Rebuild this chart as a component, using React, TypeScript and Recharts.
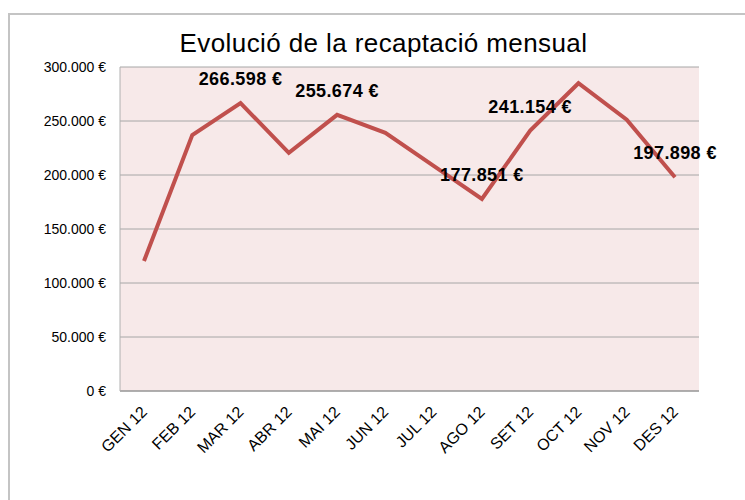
import React from 'react'
import {
  LineChart,
  Line,
  XAxis,
  YAxis,
  CartesianGrid,
  LabelList,
} from 'recharts'

// Monthly collection (€)
const months = [
  'GEN 12', 'FEB 12', 'MAR 12', 'ABR 12', 'MAI 12', 'JUN 12',
  'JUL 12', 'AGO 12', 'SET 12', 'OCT 12', 'NOV 12', 'DES 12',
]
const amounts = [
  120400, 237000, 266598, 220500, 255674, 239000,
  208400, 177851, 241154, 285000, 251300, 197898,
]
// only these months carry a value label in the original
const labelledMonths = ['MAR 12', 'MAI 12', 'AGO 12', 'SET 12', 'DES 12']
const yTicks = [0, 50000, 100000, 150000, 200000, 250000, 300000]

const FONT = '"Liberation Sans", Arial, sans-serif'

const fmtEuro = (v: number) =>
  `${Math.round(v).toString().replace(/\B(?=(\d{3})+(?!\d))/g, '.')} €`

const data = months.map((m, i) => ({
  month: m,
  amount: amounts[i],
  label: labelledMonths.includes(m) ? fmtEuro(amounts[i]) : '',
}))

function MonthTick({ x, y, payload }: any) {
  return (
    <text
      x={x + 4}
      y={y + 14}
      transform={`rotate(-45, ${x + 4}, ${y + 14})`}
      textAnchor="end"
      fontSize={16}
      fontFamily={FONT}
      fill="#000"
    >
      {payload.value}
    </text>
  )
}

export default function App() {
  return (
    <div
      style={{
        position: 'fixed',
        left: 0,
        top: 0,
        width: 745,
        height: 500,
        background: '#fff',
        overflow: 'hidden',
      }}
    >
      {/* chart frame, only top and left edges visible */}
      <div
        style={{
          position: 'absolute',
          left: 8,
          top: 13,
          width: 760,
          height: 520,
          border: '2px solid #c4c4c4',
        }}
      />
      <div
        style={{
          position: 'absolute',
          left: 0,
          top: 28,
          width: 745,
          textAlign: 'center',
          fontFamily: FONT,
          fontSize: 26,
          letterSpacing: 0.4,
          color: '#000',
          paddingLeft: 22,
          boxSizing: 'border-box',
        }}
      >
        Evolució de la recaptació mensual
      </div>
      <div style={{ position: 'absolute', left: 0, top: 0 }}>
        <LineChart
          width={745}
          height={500}
          data={data}
          margin={{ top: 67, right: 46, bottom: 49, left: 20 }}
        >
          <CartesianGrid
            vertical={false}
            stroke="#a6a6a6"
            fill="#f7e9e9"
            fillOpacity={1}
          />
          <XAxis
            dataKey="month"
            padding={{ left: 24, right: 24 }}
            axisLine={{ stroke: '#8c8c8c', strokeWidth: 1 }}
            tickLine={false}
            tick={<MonthTick />}
            interval={0}
            height={60}
          />
          <YAxis
            domain={[0, 300000]}
            ticks={yTicks}
            width={100}
            tickFormatter={fmtEuro}
            axisLine={{ stroke: '#b0b0b0' }}
            tickLine={false}
            tickSize={0}
            tickMargin={14}
            tick={{ fontSize: 14, fontFamily: FONT, fill: '#000' }}
          />
          <YAxis
            yAxisId="right"
            orientation="right"
            domain={[0, 300000]}
            width={0}
            tick={false}
            tickLine={false}
            axisLine={{ stroke: '#c8c8c8', strokeWidth: 2 }}
          />
          <Line
            type="linear"
            dataKey="amount"
            stroke="#c0504d"
            strokeWidth={4}
            dot={false}
            activeDot={false}
            isAnimationActive={false}
          >
            <LabelList
              dataKey="label"
              position="top"
              offset={18}
              fontSize={18}
              letterSpacing={0.4}
              fontWeight="bold"
              fontFamily={FONT}
              fill="#000"
            />
          </Line>
        </LineChart>
      </div>
    </div>
  )
}
